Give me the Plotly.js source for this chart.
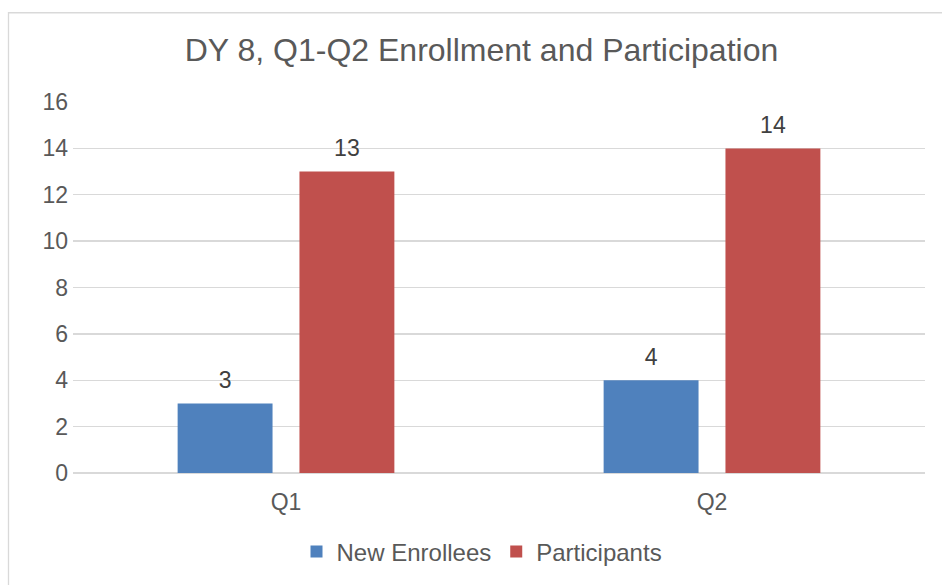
<!DOCTYPE html>
<html>
<head>
<meta charset="utf-8">
<script src="https://cdn.plot.ly/plotly-3.0.1.min.js"></script>
<style>
html,body{margin:0;padding:0;background:#fff;}
#chart{width:942px;height:585px;}
</style>
</head>
<body>
<div id="chart"></div>
<script>
const categories = ["Q1", "Q2"];
const newEnrollees = [3, 4];
const participants = [13, 14];
const seriesNames = ["New Enrollees", "Participants"];
const yTicks = [0, 2, 4, 6, 8, 10, 12, 14, 16];

const FONT = "Liberation Sans, Arial, sans-serif";
const colors = ["#4f81bd", "#c0504d"];
const series = [newEnrollees, participants];

const traces = [];
series.forEach((vals, i) => {
  traces.push({
    type: "bar", name: seriesNames[i], x: categories, y: vals,
    marker: {color: colors[i]}, offsetgroup: "g" + i,
    hoverinfo: "x+y"
  });
});
series.forEach((vals, i) => {
  traces.push({
    type: "scatter", mode: "markers+text", x: categories, y: vals,
    text: vals.map(String), textposition: "top center",
    textfont: {family: FONT, size: 23, color: "#404040"},
    marker: {size: 14, opacity: 0, color: colors[i]},
    offsetgroup: "g" + i, showlegend: false, cliponaxis: false,
    hoverinfo: "skip"
  });
});

const L = 73, R = 17, T = 102, B = 111, W = 942, H = 585;
const pw = W - L - R, ph = H - T - B;

const layout = {
  width: W, height: H,
  margin: {l: L, r: R, t: T, b: B, pad: 0},
  paper_bgcolor: "#ffffff", plot_bgcolor: "#ffffff",
  font: {family: FONT, color: "#595959", size: 23},
  title: {
    text: "DY 8, Q1-Q2 Enrollment and Participation",
    font: {family: FONT, size: 32, color: "#595959"},
    x: 481.5 / W, xanchor: "center", xref: "container",
    y: 1 - 50 / H, yanchor: "middle", yref: "container"
  },
  barmode: "group",
  bargap: 0.428,
  bargroupgap: 0.221,
  scattermode: "group",
  scattergap: 0.428,
  xaxis: {
    showgrid: false, zeroline: false, showline: false,
    ticks: "", tickfont: {family: FONT, size: 23, color: "#595959"},
    ticklabelstandoff: 13
  },
  yaxis: {
    range: [0, 16], tickvals: yTicks, ticktext: yTicks.map(String),
    showgrid: true, gridcolor: "#d9d9d9", gridwidth: 1.3,
    zeroline: true, zerolinecolor: "#d9d9d9", zerolinewidth: 1.3,
    showline: false, ticks: "",
    tickfont: {family: FONT, size: 23, color: "#595959"},
    ticklabelstandoff: 4
  },
  showlegend: true,
  legend: {
    orientation: "h", x: (482 - L) / pw, xanchor: "center",
    y: -(552 - (T + ph)) / ph, yanchor: "middle",
    font: {family: FONT, size: 24, color: "#595959"},
    itemwidth: 30, traceorder: "normal"
  },
  shapes: [
    {
      type: "rect", xref: "paper", yref: "paper",
      x0: (8.5 - L) / pw, x1: 1 + (R + 10) / pw,
      y0: -(B + 10) / ph, y1: 1 + (T - 12.5) / ph,
      line: {color: "#d9d9d9", width: 1.3}, fillcolor: "rgba(0,0,0,0)",
      layer: "below"
    }
  ]
};

Plotly.newPlot("chart", traces, layout, {displayModeBar: false, staticPlot: true});
</script>
</body>
</html>
